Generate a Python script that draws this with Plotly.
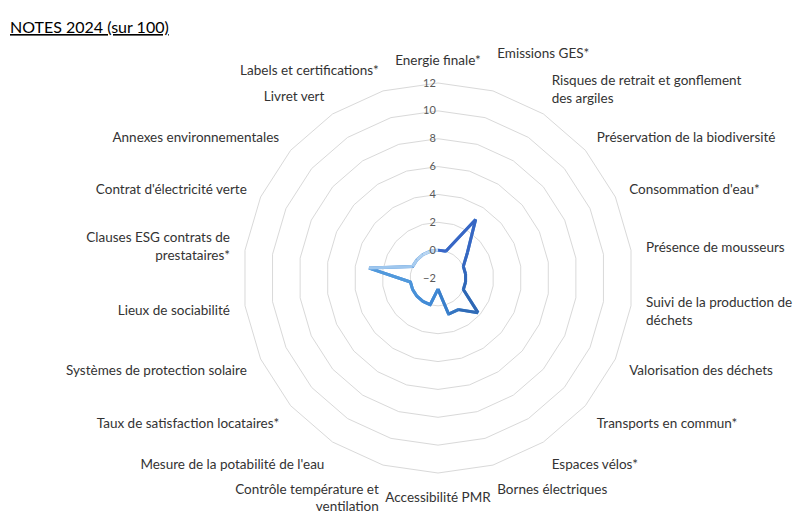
import plotly.graph_objects as go

# ---- data ----
categories = [
    "Energie finale*",
    "Emissions GES*<br> ",
    "Risques de retrait et gonflement<br>des argiles",
    "Préservation de la biodiversité",
    "Consommation d'eau*",
    "Présence de mousseurs",
    "Suivi de la production de<br>déchets",
    "Valorisation des déchets",
    "Transports en commun*",
    "Espaces vélos*",
    "Bornes électriques",
    "Accessibilité PMR",
    "Contrôle température et<br>ventilation",
    "Mesure de la potabilité de l'eau",
    "Taux de satisfaction locataires*",
    "Systèmes de protection solaire",
    "Lieux de sociabilité",
    "Clauses ESG contrats de<br>prestataires*",
    "Contrat d'électricité verte",
    "Annexes environnementales",
    "Livret vert",
    "Labels et certifications*",
]
scores = [0, 0, 3, 0.8, 0, 0, 0, 0, 1.8, 0.7, 0.7, -1.2,
          0, 0, 0, 0, 0, 3, 0, 0, 0, 0]
radial_ticks = [-2, 0, 2, 4, 6, 8, 10, 12]
title_text = "NOTES 2024 (sur 100)"

# ---- style: gradient along the path ----
stops = [
    (0.00, (0x3A, 0x66, 0xC8)),
    (0.36, (0x2E, 0x67, 0xB2)),
    (0.52, (0x3F, 0x88, 0xD4)),
    (0.76, (0x4E, 0x97, 0xDB)),
    (0.81, (0xA0, 0xC7, 0xEE)),
    (1.00, (0xC2, 0xDB, 0xF3)),
]

def color_at(t):
    for (t0, c0), (t1, c1) in zip(stops[:-1], stops[1:]):
        if t0 <= t <= t1:
            f = (t - t0) / (t1 - t0) if t1 > t0 else 0
            c = [round(a + (b - a) * f) for a, b in zip(c0, c1)]
            return "rgb({},{},{})".format(*c)
    return "rgb({},{},{})".format(*stops[-1][1])

fig = go.Figure()

n = len(categories)
closed_r = scores + [scores[0]]
closed_t = categories + [categories[0]]

# base path (joins)
fig.add_trace(go.Scatterpolar(
    r=closed_r, theta=closed_t, mode="lines",
    line=dict(color="rgb(70,140,215)", width=3),
    hoverinfo="skip", showlegend=False))

for i in range(n):
    t = i / (n - 1)
    fig.add_trace(go.Scatterpolar(
        r=closed_r[i:i + 2], theta=closed_t[i:i + 2], mode="lines",
        line=dict(color=color_at(t), width=3),
        showlegend=False, hoverinfo="skip"))

W, H = 811, 518
cx, cy, R = 430, 270, 195

fig.update_layout(
    width=W, height=H,
    margin=dict(l=0, r=0, t=0, b=0),
    paper_bgcolor="white",
    plot_bgcolor="white",
    font=dict(family="Lato, 'Open Sans', sans-serif", color="#404040"),
    polar=dict(
        domain=dict(x=[(cx - R) / W, (cx + R) / W],
                    y=[1 - (cy + R) / H, 1 - (cy - R) / H]),
        bgcolor="white",
        gridshape="linear",
        radialaxis=dict(
            range=[-2, 12], tickvals=radial_ticks,
            angle=90, tickangle=90, side="counterclockwise",
            showline=False, ticks="", ticksuffix="\u00a0\u00a0\u00a0",
            gridcolor="#D9D9D9", gridwidth=1,
            tickfont=dict(size=11, color="#595959"),
        ),
        angularaxis=dict(
            direction="clockwise", rotation=90,
            showgrid=False, showline=True, linecolor="#D9D9D9", linewidth=1,
            ticks="outside", ticklen=12, tickcolor="rgba(0,0,0,0)",
            tickfont=dict(size=13.5, color="#333333"),
        ),
    ),
    annotations=[dict(
        text="<u>" + title_text + "</u>", x=0.0, y=1 - 18 / H,
        xref="paper", yref="paper", xanchor="left", yanchor="middle",
        showarrow=False, font=dict(size=16, color="#000000"))],
)

fig.write_html("out.html")
